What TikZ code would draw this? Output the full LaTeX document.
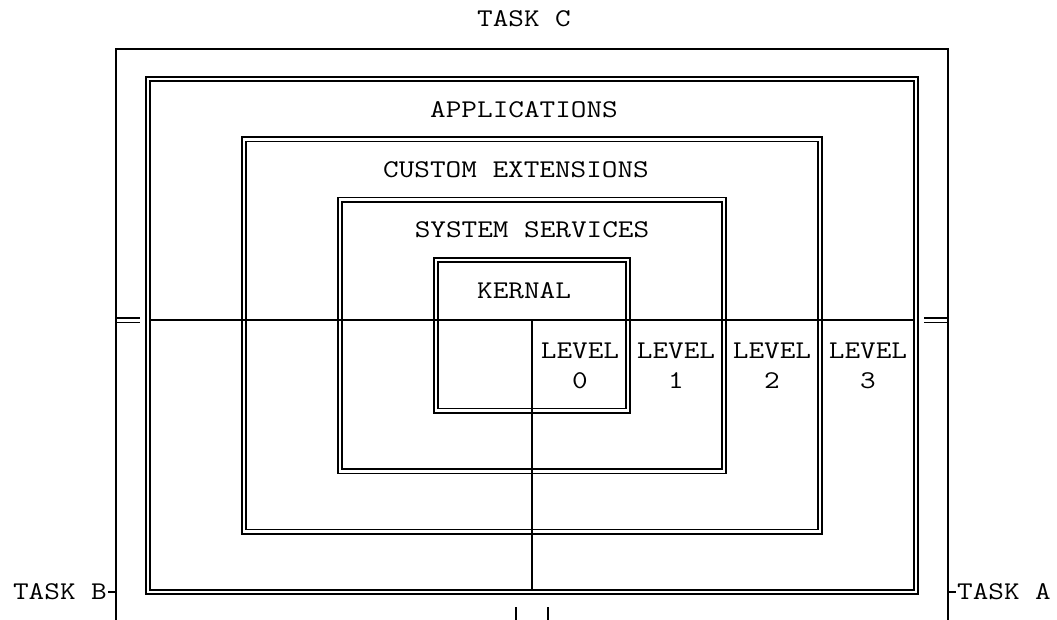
\documentclass[tikz,border=0pt]{standalone}
\usepackage{fontspec}
\newfontfamily\cour[FakeStretch=1.19]{Latin Modern Mono}
\begin{document}
\begin{tikzpicture}[x=16pt,y=-30.18pt,
  sgl/.style={line width=2pt,line cap=butt},
  dbl/.style={line width=1.7pt},
  lbl/.style={font=\cour\fontsize{25.5}{30}\selectfont, anchor=base, inner sep=0pt, yshift=-8pt}]
\useasboundingbox (-0.25,-0.613) rectangle (65.8125,19.9304);
% corners of the nested double boxes (cols, rows)
\coordinate (appA) at (9,2);   \coordinate (appB) at (57,19);
\coordinate (cusA) at (15,4);  \coordinate (cusB) at (51,17);
\coordinate (sysA) at (21,6);  \coordinate (sysB) at (45,15);
\coordinate (kerA) at (27,8);  \coordinate (kerB) at (39,13);
\foreach \a/\b in {appA/appB,cusA/cusB,sysA/sysB,kerA/kerB}{
  \draw[dbl] ([shift={(-2.2pt,2.2pt)}]\a) rectangle ([shift={(2.2pt,-2.2pt)}]\b);
  \draw[dbl] ([shift={(2.2pt,-2.2pt)}]\a) rectangle ([shift={(-2.2pt,2.2pt)}]\b);
}
% outer single frame
\coordinate (oBL) at (7,19.94); \coordinate (oTL) at (7,1);
\coordinate (oTR) at (59,1);    \coordinate (oBR) at (59,19.94);
\draw[sgl] (oBL) -- (oTL) -- (oTR) -- (oBR);
% level divider
\coordinate (hL) at (9,10); \coordinate (hR) at (57,10);
\draw[sgl] ([xshift=2.2pt]hL) -- ([xshift=-2.2pt]hR);
\coordinate (vT) at (33,10); \coordinate (vB) at (33,19);
\draw[sgl] (vT) -- ([yshift=2.2pt]vB);
% double stubs joining frame and applications box
\coordinate (sL1) at (7,10); \coordinate (sL2) at (8.5,10);
\coordinate (sR1) at (57.5,10); \coordinate (sR2) at (59,10);
\foreach \s in {2.2pt,-2.2pt}{
  \draw[dbl] ([yshift=\s]sL1) -- ([yshift=\s]sL2);
  \draw[dbl] ([yshift=\s]sR1) -- ([yshift=\s]sR2);
}
% task stubs
\coordinate (tB1) at (6.5,19); \coordinate (tB2) at (7,19);
\coordinate (tA1) at (59,19); \coordinate (tA2) at (59.5,19);
\draw[sgl] (tB1) -- (tB2);
\draw[sgl] (tA1) -- (tA2);
% short marks at bottom
\coordinate (m1) at (32,19.5); \coordinate (m1b) at (32,19.94);
\coordinate (m2) at (34,19.5); \coordinate (m2b) at (34,19.94);
\draw[sgl] (m1) -- (m1b);
\draw[sgl] (m2) -- (m2b);
% labels
\node[lbl] (taskc) at (32.5,0) {TASK C};
\node[lbl] (apps) at (32.5,3) {APPLICATIONS};
\node[lbl] (cust) at (32,5) {CUSTOM EXTENSIONS};
\node[lbl] (sys) at (33,7) {SYSTEM SERVICES};
\node[lbl] (ker) at (32.5,9) {KERNAL};
\node[lbl] (lv0) at (36,11) {LEVEL};
\node[lbl] (lv1) at (42,11) {LEVEL};
\node[lbl] (lv2) at (48,11) {LEVEL};
\node[lbl] (lv3) at (54,11) {LEVEL};
\node[lbl] (n0) at (36,12) {0};
\node[lbl] (n1) at (42,12) {1};
\node[lbl] (n2) at (48,12) {2};
\node[lbl] (n3) at (54,12) {3};
\node[lbl] (taskb) at (3.5,19) {TASK B};
\node[lbl] (taska) at (62.5,19) {TASK A};
\end{tikzpicture}
\end{document}
